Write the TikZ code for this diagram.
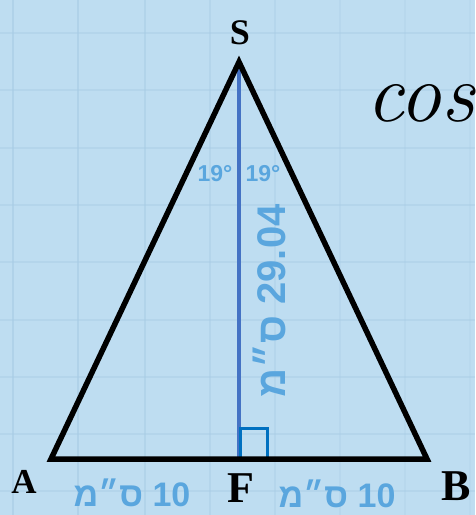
\documentclass[tikz,border=0pt]{standalone}
\usepackage{fontspec}
\setmainfont{Liberation Serif}
\newfontfamily\hebfont[Script=Hebrew]{Liberation Sans}
\newfontfamily\cosfont{Latin Modern Roman}
\TeXXeTstate=1
\definecolor{bgblue}{RGB}{190,221,241}
\definecolor{gridblue}{RGB}{168,204,229}
\definecolor{lblblue}{RGB}{90,166,222}
\definecolor{altblue}{RGB}{68,114,196}
\definecolor{sqblue}{RGB}{0,112,192}
\tikzset{
  tri/.style={line width=5.5pt, line join=miter, black},
  alt/.style={line width=4pt, altblue},
  rsq/.style={line width=3pt, sqblue},
  vlabel/.style={font=\fontsize{#1}{#1}\selectfont\bfseries, inner sep=0pt, text=black},
  blab/.style={font=\hebfont\fontsize{#1}{#1}\selectfont\bfseries, inner sep=0pt, text=lblblue},
}
\begin{document}
\begin{tikzpicture}[x=1pt,y=-1pt]
\useasboundingbox (0,0) rectangle (475,515);
\fill[bgblue] (0,0) rectangle (475,515);
\clip (0,0) rectangle (475,515);
% grid
\begin{scope}[gridblue, line width=1.5pt]
\foreach \gx/\op in {13/0.6,78/0.6,145/0.5,210/0.45,275/0.4,340/0.3,405/0.25,470/0.2} \draw[opacity=\op] (\gx,0) -- (\gx,515);
\foreach \gy in {33,90,148,205,262,320,377,434,491} \draw[opacity=0.45] (0,\gy) -- (475,\gy);
\end{scope}
% points
\coordinate (S) at (239,62);
\coordinate (A) at (51,459);
\coordinate (B) at (427,459);
\coordinate (F) at (239,459);
% altitude and right angle
\draw[alt] (S) -- (F);
\draw[rsq] ([xshift=1.5pt]F) |- ++(27,-31) coordinate (sqc) |- (F);
% triangle
\draw[tri] (A) -- (S) -- (B) -- cycle;
% vertex labels
\node[vlabel=36] (lS) at (240,33) {S};
\node[vlabel=35] (lA) at (24,482) {A};
\node[vlabel=44] (lF) at (241,488) {F};
\node[vlabel=44] (lB) at (456,486) {B};
% cos (cut by the right edge, as in the reference)
\node[anchor=base west, inner sep=0pt, font=\cosfont\itshape\fontsize{84}{84}\selectfont] (cos) at (366,121) {cos};
% angles
\node[blab=23] (a1) at (215,174) {19°};
\node[blab=23] (a2) at (263,174) {19°};
% lengths
\node[blab=40, rotate=90] (h) at (269,301) {\beginR ס״מ\endR\ 29.04};
\node[blab=34] (l1) at (132,493) {\beginR ס״מ\endR\ 10};
\node[blab=34] (l2) at (337,494) {\beginR ס״מ\endR\ 10};
\end{tikzpicture}
\end{document}
